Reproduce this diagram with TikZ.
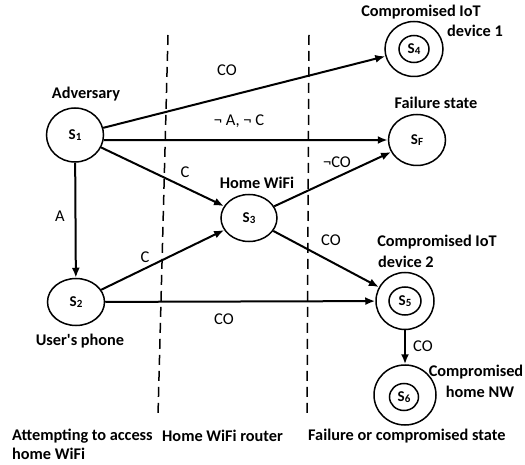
\documentclass[tikz,border=0pt]{standalone}
\usepackage{fontspec}
\setmainfont{Carlito}
\usetikzlibrary{shapes.geometric,arrows.meta}
\newcommand{\stname}[2]{S\raisebox{-1.2pt}{\fontsize{11}{11}\selectfont #2}}
\begin{document}
\begin{tikzpicture}[x=1pt,y=-1pt,
  st/.style={ellipse, draw, line width=1.5pt, inner sep=0pt, font=\fontsize{15}{16}\selectfont\bfseries},
  ar/.style={line width=2pt, -{Latex[length=10pt,width=8pt]}},
  sep/.style={line width=1.5pt, dash pattern=on 10pt off 6pt},
  lbl/.style={font=\fontsize{16.3}{18}\selectfont\bfseries, inner sep=0pt},
  el/.style={font=\fontsize{16.5}{18}\selectfont, inner sep=0pt}]
\useasboundingbox (0,0) rectangle (525,465);
% separators
\coordinate (d1t) at (168,35); \coordinate (d1b) at (158,415);
\coordinate (d2t) at (309,35); \coordinate (d2b) at (307,415);
\draw[sep] (d1t) -- (d1b);
\draw[sep] (d2t) -- (d2b);
% states
\node[st, minimum width=57pt, minimum height=54pt] (s1) at (75,135) {\stname{S}{1}};
\node[st, minimum width=57pt, minimum height=47pt] (s2) at (76,302) {\stname{S}{2}};
\node[st, minimum width=56pt, minimum height=47pt] (s3) at (249,218) {\stname{S}{3}};
\node[st, minimum width=57pt, minimum height=51pt] (sf) at (417,140) {\stname{S}{F}};
\node[st, minimum width=58pt, minimum height=55pt] (s4) at (414,49) {};
\node[st, minimum width=30pt, minimum height=27pt] (s4i) at (414,49) {\stname{S}{4}};
\node[st, minimum width=58pt, minimum height=57pt] (s5) at (405,301) {};
\node[st, minimum width=32pt, minimum height=28pt] (s5i) at (405,301) {\stname{S}{5}};
\node[st, minimum width=62pt, minimum height=60pt] (s6) at (405,395) {};
\node[st, minimum width=29pt, minimum height=27pt] (s6i) at (404,397) {\stname{S}{6}};
% transitions
\draw[ar] (s1) -- (s4);
\draw[ar] (s1.-10) -- (sf.west);
\draw[ar] (s1) -- (s3);
\draw[ar] (s1) -- (s2);
\draw[ar] (s2) -- (s3);
\draw[ar] (s2) -- (s5);
\draw[ar] (s3) -- (sf);
\draw[ar] (s3) -- (s5);
\draw[ar] (s5) -- (s6);
% transition labels
\node[el] (l14) at (227,70) {CO};
\node[el] (l1f) at (239,121) {¬ A, ¬ C};
\node[el] (l13) at (185,172) {C};
\node[el] (l12) at (60,216) {A};
\node[el] (l23) at (145,257) {C};
\node[el] (l3f) at (337,162) {¬CO};
\node[el] (l35) at (331,240) {CO};
\node[el] (l25) at (224,319) {CO};
\node[el] (l56) at (423,346) {CO};
% state labels
\node[lbl] (t1) at (86,94) {Adversary};
\node[lbl] (t4a) at (421,12) {Compromised IoT};
\node[lbl] (t4b) at (475,31) {device 1};
\node[lbl] (tf) at (436,103) {Failure state};
\node[lbl] (t3) at (257,183) {Home WiFi};
\node[lbl] (t5a) at (437,242) {Compromised IoT};
\node[lbl, anchor=west] (t5b) at (378,262) {device 2};
\node[lbl] (t2) at (80,341) {User\textquotesingle s phone};
\node[lbl] (t6a) at (476,372) {Compromised};
\node[lbl] (t6b) at (480,392) {home NW};
% zone labels
\node[lbl, anchor=west] (z1a) at (12,436) {Attempting to access};
\node[lbl, anchor=west] (z1b) at (12,454) {home WiFi};
\node[lbl, anchor=west] (z2) at (162,436) {Home WiFi router};
\node[lbl, anchor=west] (z3) at (308,436) {Failure or compromised state};
\end{tikzpicture}
\end{document}
